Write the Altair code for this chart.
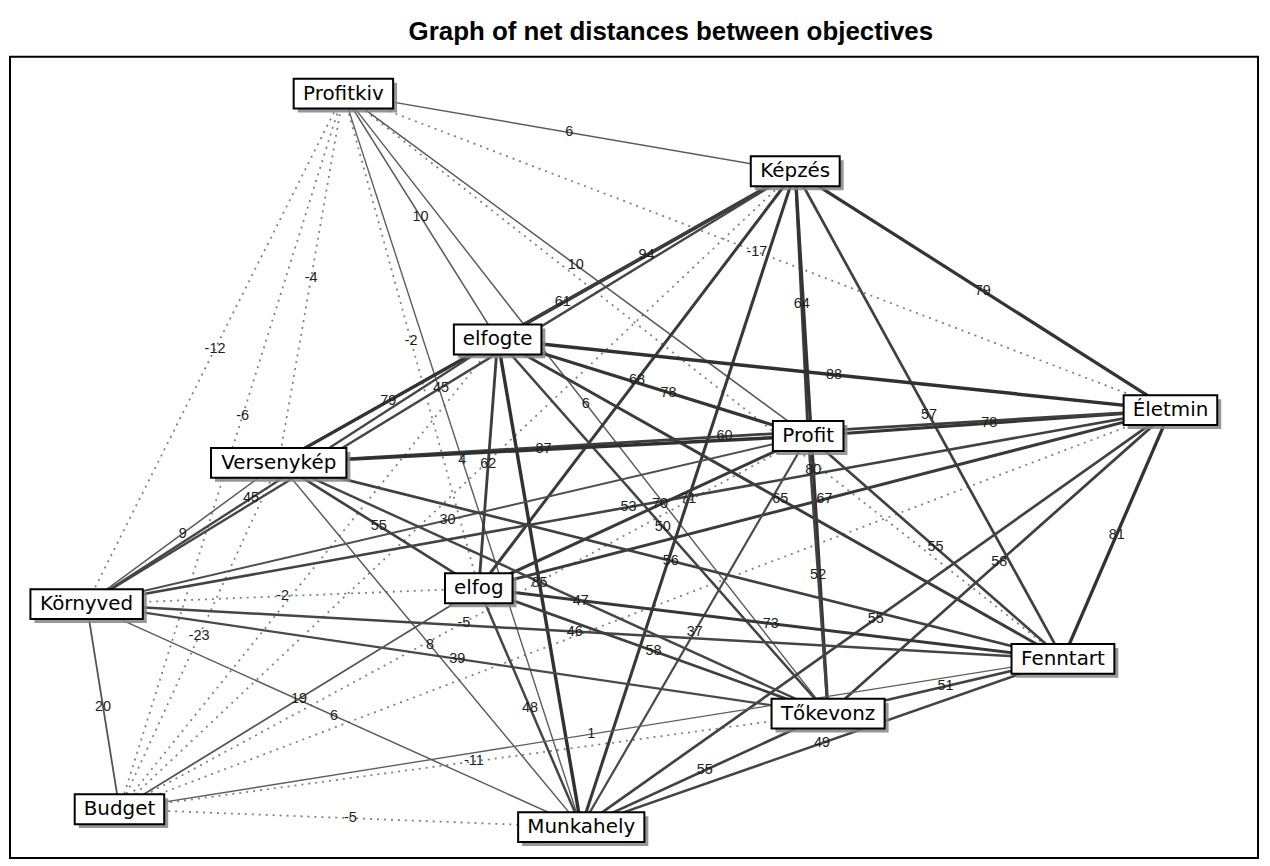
import altair as alt
import pandas as pd

# ---- nodes (layout coordinates, origin at top-left of the plot frame) ----
node_names = ["Profitkiv", "Képzés", "elfogte", "Életmin", "Profit", "Versenykép",
              "Környved", "elfog", "Fenntart", "Tőkevonz", "Budget", "Munkahely"]
node_x = [335, 789, 490, 1166, 802, 270, 77, 471, 1058, 822, 110, 574]
node_y = [37, 115, 284, 355, 381, 408, 550, 534, 605, 660, 756, 774]

# ---- edges: net distances between objectives (None = unlabeled) ----
edge_source = [
    "Profitkiv", "Profitkiv", "Profitkiv", "Profitkiv", "Profitkiv", "Profitkiv",
    "Profitkiv", "Profitkiv", "Profitkiv", "Profitkiv", "Profitkiv",
    "Képzés", "Képzés", "Képzés", "Képzés", "Képzés", "Képzés", "Képzés",
    "Képzés", "Képzés", "Képzés",
    "elfogte", "elfogte", "elfogte", "elfogte", "elfogte", "elfogte", "elfogte",
    "elfogte", "elfogte",
    "Életmin", "Életmin", "Életmin", "Életmin", "Életmin", "Életmin", "Életmin",
    "Életmin",
    "Profit", "Profit", "Profit", "Profit", "Profit", "Profit", "Profit",
    "Versenykép", "Versenykép", "Versenykép", "Versenykép", "Versenykép", "Versenykép",
    "Környved", "Környved", "Környved", "Környved", "Környved",
    "elfog", "elfog", "elfog", "elfog",
    "Fenntart", "Fenntart", "Fenntart",
    "Tőkevonz", "Tőkevonz",
    "Budget",
]
edge_target = [
    "Képzés", "elfogte", "Életmin", "Profit", "Versenykép", "Környved",
    "elfog", "Fenntart", "Tőkevonz", "Budget", "Munkahely",
    "elfogte", "Életmin", "Profit", "Versenykép", "Környved", "elfog", "Fenntart",
    "Tőkevonz", "Budget", "Munkahely",
    "Életmin", "Profit", "Versenykép", "Környved", "elfog", "Fenntart", "Tőkevonz",
    "Budget", "Munkahely",
    "Profit", "Versenykép", "Környved", "elfog", "Fenntart", "Tőkevonz", "Budget",
    "Munkahely",
    "Versenykép", "Környved", "elfog", "Fenntart", "Tőkevonz", "Budget", "Munkahely",
    "Környved", "elfog", "Fenntart", "Tőkevonz", "Budget", "Munkahely",
    "elfog", "Fenntart", "Tőkevonz", "Budget", "Munkahely",
    "Fenntart", "Tőkevonz", "Budget", "Munkahely",
    "Tőkevonz", "Budget", "Munkahely",
    "Budget", "Munkahely",
    "Munkahely",
]
edge_value = [
    6, 10, -17, 10, -4, -12, -2, None, 6, -6, 4,
    94, 79, 64, 61, 45, 68, 57, 80, None, 71,
    88, 78, 79, 45, 62, 65, 50, None, 85,
    78, 60, 53, 67, 81, 58, None, 55,
    87, 30, 70, 55, 52, -5, 37,
    9, 55, 56, 47, -23, 8,
    -2, 46, 39, 20, 6,
    73, 58, 19, 48,
    51, 1, 49,
    -11, 55,
    -5,
]

TITLE = "Graph of net distances between objectives"

# approximate DejaVu Sans advance widths (per 1000 em) to size the node boxes
CHAR_W = {"a": 613, "b": 635, "c": 550, "d": 635, "e": 615, "f": 352, "g": 635,
          "h": 634, "i": 278, "k": 579, "l": 278, "m": 974, "n": 634, "o": 612,
          "p": 635, "r": 411, "s": 521, "t": 392, "u": 634, "v": 592, "y": 592,
          "z": 525, "é": 615, "ö": 612, "ő": 612, "B": 686, "É": 632, "F": 575,
          "K": 656, "M": 863, "P": 603, "T": 611, "V": 684}
FONT_SIZE = 20
BOX_H = 30


def text_width(s):
    return sum(CHAR_W.get(ch, 600) for ch in s) * FONT_SIZE / 1000.0


nodes_df = pd.DataFrame({"name": node_names, "x": node_x, "y": node_y})
nodes_df["w"] = [text_width(n) + 18 for n in node_names]
half_w = dict(zip(node_names, nodes_df["w"] / 2))

pos = {n: (x, y) for n, x, y in zip(node_names, node_x, node_y)}


def place_label(a, b, placed):
    """Point along edge a-b for its label: nearest to the middle that is clear of
    node boxes and of labels already placed."""
    (x1, y1), (x2, y2) = pos[a], pos[b]
    best = None
    for t in [0.5, 0.45, 0.55, 0.4, 0.6, 0.35, 0.65, 0.3, 0.7, 0.25, 0.75]:
        px, py = x1 + t * (x2 - x1), y1 + t * (y2 - y1)
        inside = any(abs(px - nx) < half_w[n] + 10 and abs(py - ny) < BOX_H / 2 + 9
                     for n, (nx, ny) in pos.items())
        crowded = any(abs(px - qx) < 20 and abs(py - qy) < 13 for qx, qy in placed)
        if not inside and not crowded:
            return px, py
        if best is None and not inside:
            best = (px, py)
    return best if best is not None else (x1 + 0.5 * (x2 - x1), y1 + 0.5 * (y2 - y1))


rows = []
placed = []
for s, t, v in zip(edge_source, edge_target, edge_value):
    if v is not None:
        lx, ly = place_label(s, t, placed)
        placed.append((lx, ly))
    else:
        lx, ly = (pos[s][0] + pos[t][0]) / 2, (pos[s][1] + pos[t][1]) / 2
    rows.append({
        "source": s, "target": t,
        "value": float(v) if v is not None else None,
        "x": pos[s][0], "y": pos[s][1], "x2": pos[t][0], "y2": pos[t][1],
        "lx": lx, "ly": ly,
        "label": "" if v is None else str(v),
        "kind": "solid" if (v is not None and v > 0) else "dotted",
    })
edges_df = pd.DataFrame(rows)

W, H = 1254, 805
xs = alt.Scale(domain=[0, W])
ys = alt.Scale(domain=[0, H], reverse=True)

base_e = alt.Chart(edges_df)

solid = base_e.transform_filter("datum.kind == 'solid'").mark_rule(strokeCap="butt").encode(
    x=alt.X("x:Q", scale=xs, axis=None),
    y=alt.Y("y:Q", scale=ys, axis=None),
    x2="x2:Q",
    y2="y2:Q",
    strokeWidth=alt.StrokeWidth("value:Q", scale=alt.Scale(domain=[0, 100], range=[1.3, 3.8]), legend=None),
    color=alt.Color("value:Q", scale=alt.Scale(domain=[0, 100], range=["#5e5e5e", "#2a2a2a"]), legend=None),
)

dotted = base_e.transform_filter("datum.kind == 'dotted'").mark_rule(
    strokeDash=[2, 5], color="#808080", strokeWidth=1.8
).encode(
    x=alt.X("x:Q", scale=xs, axis=None),
    y=alt.Y("y:Q", scale=ys, axis=None),
    x2="x2:Q",
    y2="y2:Q",
)

labels = base_e.mark_text(font="Liberation Sans", fontSize=14.5, color="#1e1e1e").encode(
    x=alt.X("lx:Q", scale=xs, axis=None),
    y=alt.Y("ly:Q", scale=ys, axis=None),
    text="label:N",
)

base_n = alt.Chart(nodes_df)

shadow = base_n.transform_calculate(
    xa="datum.x - datum.w / 2 + 4", xb="datum.x + datum.w / 2 + 4",
    ya=f"datum.y - {BOX_H / 2} + 4", yb=f"datum.y + {BOX_H / 2} + 4",
).mark_rect(color="#858585", opacity=0.85).encode(
    x=alt.X("xa:Q", scale=xs, axis=None), x2="xb:Q",
    y=alt.Y("ya:Q", scale=ys, axis=None), y2="yb:Q",
)

box = base_n.transform_calculate(
    xa="datum.x - datum.w / 2", xb="datum.x + datum.w / 2",
    ya=f"datum.y - {BOX_H / 2}", yb=f"datum.y + {BOX_H / 2}",
).mark_rect(fill="white", stroke="black", strokeWidth=2).encode(
    x=alt.X("xa:Q", scale=xs, axis=None), x2="xb:Q",
    y=alt.Y("ya:Q", scale=ys, axis=None), y2="yb:Q",
)

names = base_n.mark_text(font="DejaVu Sans", fontSize=FONT_SIZE, color="black", baseline="middle").encode(
    x=alt.X("x:Q", scale=xs, axis=None),
    y=alt.Y("y:Q", scale=ys, axis=None),
    text="name:N",
)

chart = alt.layer(dotted, solid, labels, shadow, box, names).properties(
    width=W,
    height=H,
    autosize="none",
    padding={"left": 2, "top": 47, "right": 4, "bottom": 2},
    title=alt.TitleParams(TITLE, font="Liberation Sans", fontSize=26, fontWeight="bold",
                          color="black", anchor="middle", offset=12, dx=37),
).configure_view(stroke="black", strokeWidth=2)

chart.save("out.html", embed_options={"renderer": "svg", "actions": False})
